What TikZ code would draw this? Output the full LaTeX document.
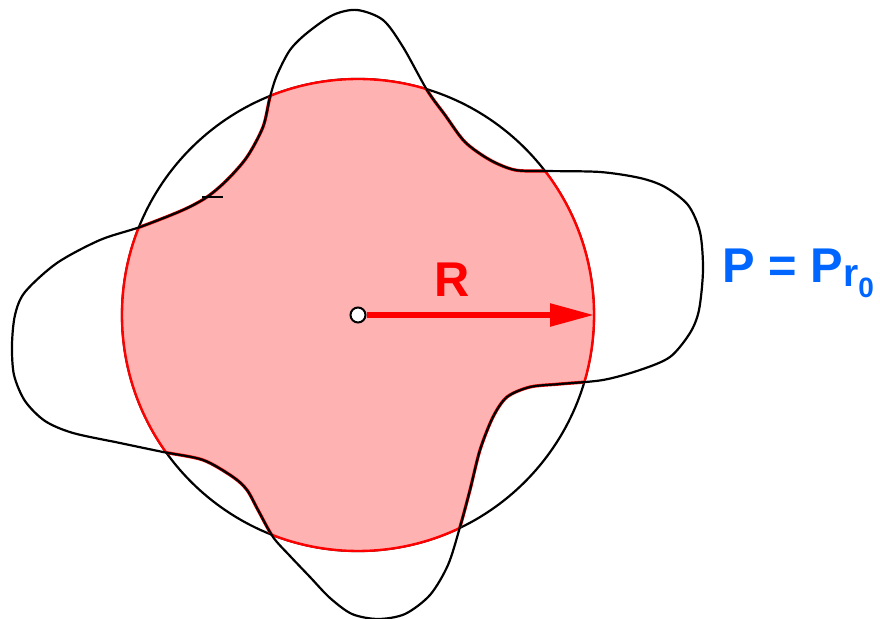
\documentclass[tikz,border=0pt]{standalone}
\usepackage{fontspec}
\setmainfont{Liberation Sans}
\usepackage{xcolor}
\usepackage{tikz}
\usetikzlibrary{arrows.meta}
\definecolor{labelblue}{RGB}{0,102,255}
\tikzset{
  blobline/.style={line width=1.1pt, black},
  biglabel/.style={font=\fontsize{24.4}{28}\selectfont\bfseries, inner sep=0}
}
\newcommand{\blobpath}{plot [smooth cycle] coordinates
{(357,10) (383,20) (403,47) (427,90) (445,115) (465,142) (490,160) (515,170) (545,171)
 (600,172) (640,178) (665,187) (688,205) (700,232) (703,270) (699,310) (690,333) (670,357)
 (640,370) (603,380) (560,384) (530,387) (507,397) (493,417) (480,450) (470,490) (460,527)
 (448,565) (430,595) (405,614) (378,619) (352,614) (330,598) (310,577) (290,556) (273,537)
 (258,510) (247,490) (233,477) (203,460) (163,452) (120,443) (73,433) (45,421) (25,401)
 (14,375) (12,345) (15,315) (25,292) (57,263) (100,240) (140,227) (183,210) (207,197)
 (227,180) (247,157) (263,127) (270,97) (277,75) (290,50) (307,33) (333,15)}}

\begin{document}
\begin{tikzpicture}[x=0.5pt, y=-0.5pt]
\useasboundingbox (0,0) rectangle (880,619);
\coordinate (O) at (358,315);
\coordinate (E) at (594,315);
\draw[blobline] (O) circle[radius=118pt];
\begin{scope}
\clip \blobpath;
\fill[red!30] (O) circle[radius=118pt];
\draw[red, line width=1.2pt] (O) circle[radius=118pt];
\end{scope}
\begin{scope}
\clip (O) circle[radius=118pt];
\draw[red, line width=1.6pt] \blobpath;
\end{scope}
\draw[blobline] \blobpath;
\draw[line width=1.1pt] (202,197) -- (223,197);
\node[circle, draw, fill=white, line width=1pt, inner sep=0, minimum size=7.5pt] (c) at (O) {};
\draw[red, line width=2.75pt, -{Triangle[length=22pt, width=11pt]}] (c) -- (E);
\node[biglabel, red, anchor=base] (r) at (452,297) {R};
\node[biglabel, labelblue, anchor=base west] (p) at (722,283)
  {P = P\raisebox{-2pt}{\fontsize{19.5}{20}\selectfont r\raisebox{-5.5pt}{\fontsize{14}{15}\selectfont 0}}};
\end{tikzpicture}
\end{document}
